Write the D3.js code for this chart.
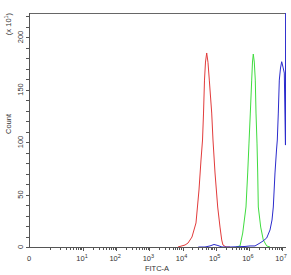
<!DOCTYPE html>
<html>
<head>
<meta charset="utf-8">
<script src="https://cdn.jsdelivr.net/npm/d3@7"></script>
<style>
  body { margin: 0; background: #fff; }
  svg text { font-family: "Liberation Sans", Arial, sans-serif; fill: #333; }
</style>
</head>
<body>
<div id="chart"></div>
<script>
// FITC-A intensity (x) and count in units of x10 (y)
var redFitc = [7300, 11900, 14700, 19300, 25500, 31400, 36100, 40100, 43000, 46000, 49300, 53600,
    58600, 64300, 75900, 83000, 95500, 115000, 135000, 152000, 166000, 205000, 270000];
var redCount = [0, 1.9, 3.8, 9.5, 22.9, 54.3, 82.9, 101.9, 127.6, 159, 176.2, 184.8,
    176, 159, 127.6, 101.9, 70.5, 38.1, 19, 6.7, 1.9, 0, 0];

var greenFitc = [410000, 541000, 653000, 820000, 923000, 1010000, 1107000, 1219000, 1288000, 1361000,
    1459000, 1563000, 1644000, 1762000, 1849000, 1928000, 2275000, 2729000, 3451000, 4345000];
var greenCount = [0, 1, 13.3, 38.1, 70.5, 99, 127.6, 159, 176.2, 183.8,
    176.2, 159, 127.6, 99, 70.5, 38.1, 19, 6.7, 1, 0];

var blueFitc = [30000, 47600, 67400, 88900, 117000, 155000, 270000, 766000, 1084000, 1531000, 2166000,
    2671000, 3454000, 4343000, 4990000, 5460000, 6140000, 6820000, 7210000, 7730000, 8280000,
    9000000, 9780000, 10700000, 11720000, 12700000, 12800000];
var blueCount = [0, 0, 1, 2.4, 1.4, 0, 0, 0.5, 1, 1, 3.8,
    5.7, 8.6, 16.2, 25.7, 38.1, 70.5, 92.4, 101.9, 127.6, 159,
    170.5, 176.5, 171.4, 165.7, 97.1, 240];

var xTickValues = [10, 100, 1000, 10000, 100000, 1000000, 10000000];
var xTickExps = ["1", "2", "3", "4", "5", "6", "7"];
var yTickValues = [0, 50, 100, 150, 200];
var yMinorValues = d3.range(0, 230, 10);

var series = [
    { fitc: redFitc, count: redCount, color: "#e23b3b" },
    { fitc: greenFitc, count: greenCount, color: "#3fdc3f" },
    { fitc: blueFitc, count: blueCount, color: "#2b2bcc" }
];

drawChart();

function drawChart() {
    var width = 291, height = 275;
    var pLeft = 29, pRight = 286, pTop = 13, pBottom = 247;

    var x = d3.scaleLog()
        .domain([Math.pow(10, -0.628), Math.pow(10, 7.12)])
        .range([pLeft, pRight]);

    var y = d3.scaleLinear()
        .domain([0, 222.9])
        .range([pBottom, pTop]);

    var svg = d3.select("#chart").append("svg")
        .attr("width", width)
        .attr("height", height);

    svg.append("clipPath").attr("id", "plotclip")
        .append("rect")
        .attr("x", pLeft).attr("y", pTop)
        .attr("width", pRight - pLeft).attr("height", pBottom - pTop);

    // curves
    var line = d3.line()
        .x(function (d) { return x(d[0]); })
        .y(function (d) { return y(d[1]); });

    var plot = svg.append("g").attr("clip-path", "url(#plotclip)");
    series.forEach(function (s) {
        var pts = s.fitc.map(function (f, i) { return [f, s.count[i]]; });
        plot.append("path")
            .attr("d", line(pts))
            .attr("fill", "none")
            .attr("stroke", s.color)
            .attr("stroke-width", 1);
    });

    // top border
    svg.append("line")
        .attr("x1", pLeft).attr("x2", pRight - 1)
        .attr("y1", pTop + 0.5).attr("y2", pTop + 0.5)
        .attr("stroke", "#666");

    // y axis
    var yAxis = svg.append("g");
    yAxis.append("line")
        .attr("x1", pLeft + 0.5).attr("x2", pLeft + 0.5)
        .attr("y1", pTop).attr("y2", pBottom)
        .attr("stroke", "#555");
    yAxis.selectAll(".ytick")
        .data(yMinorValues)
        .enter().append("line")
        .attr("x1", pLeft - 3).attr("x2", pLeft)
        .attr("y1", function (d) { return Math.round(y(d)) + 0.5; })
        .attr("y2", function (d) { return Math.round(y(d)) + 0.5; })
        .attr("stroke", "#555");
    yAxis.selectAll(".ylabel")
        .data(yTickValues)
        .enter().append("text")
        .attr("transform", function (d) { return "translate(23," + y(d) + ") rotate(-90)"; })
        .attr("text-anchor", "middle")
        .attr("font-size", "7.5px")
        .text(function (d) { return d; });

    svg.append("text")
        .attr("transform", "translate(11,24) rotate(-90)")
        .attr("text-anchor", "middle")
        .attr("font-size", "7.5px")
        .html("(x 10<tspan dy='-3' font-size='5.5px'>1</tspan><tspan dy='3'>)</tspan>");

    svg.append("text")
        .attr("transform", "translate(11,124) rotate(-90)")
        .attr("text-anchor", "middle")
        .attr("font-size", "7.5px")
        .text("Count");

    // x axis
    var xAxis = svg.append("g");
    xAxis.append("line")
        .attr("x1", pLeft).attr("x2", pRight)
        .attr("y1", pBottom + 0.5).attr("y2", pBottom + 0.5)
        .attr("stroke", "#555");

    var minors = [];
    for (var e = 0; e < 7; e++) {
        for (var m = 1; m < 10; m++) minors.push(m * Math.pow(10, e));
    }
    xAxis.selectAll(".xminor")
        .data(minors)
        .enter().append("line")
        .attr("x1", function (d) { return Math.round(x(d)) + 0.5; })
        .attr("x2", function (d) { return Math.round(x(d)) + 0.5; })
        .attr("y1", pBottom)
        .attr("y2", pBottom + 3)
        .attr("stroke", "#555");
    xAxis.selectAll(".xmajor")
        .data(xTickValues)
        .enter().append("line")
        .attr("x1", function (d) { return Math.round(x(d)) + 0.5; })
        .attr("x2", function (d) { return Math.round(x(d)) + 0.5; })
        .attr("y1", pBottom)
        .attr("y2", pBottom + 4)
        .attr("stroke", "#555");

    xAxis.selectAll(".xlabel")
        .data(xTickValues)
        .enter().append("text")
        .attr("x", function (d) { return x(d) - 1; })
        .attr("y", 261)
        .attr("text-anchor", "middle")
        .attr("font-size", "7.5px")
        .html(function (d, i) { return "10<tspan dy='-3' font-size='5.5px'>" + xTickExps[i] + "</tspan>"; });

    xAxis.append("text")
        .attr("x", pLeft)
        .attr("y", 261)
        .attr("text-anchor", "middle")
        .attr("font-size", "7.5px")
        .text("0");

    svg.append("text")
        .attr("x", 157)
        .attr("y", 271)
        .attr("text-anchor", "middle")
        .attr("font-size", "7.5px")
        .text("FITC-A");
}
</script>
</body>
</html>
